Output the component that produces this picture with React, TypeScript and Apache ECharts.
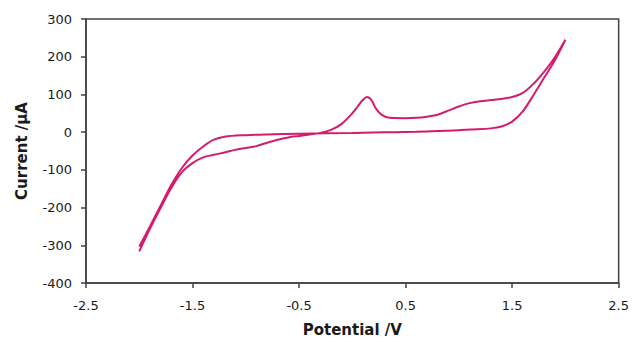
import React, { useEffect, useRef } from "react";
import * as echarts from "echarts";

// Forward (anodic) scan: -2.0 V -> 2.0 V
const forwardPotential = [
  -2.0, -1.9, -1.8, -1.7, -1.6, -1.5, -1.4, -1.3, -1.2, -1.1, -1.0, -0.9, -0.8,
  -0.7, -0.6, -0.5, -0.4, -0.3, -0.2, -0.1, 0.0, 0.05, 0.1, 0.14, 0.18, 0.22,
  0.28, 0.35, 0.5, 0.6, 0.7, 0.8, 0.9, 1.0, 1.1, 1.2, 1.3, 1.4, 1.5, 1.6, 1.7,
  1.8, 1.9, 2.0,
];
const forwardCurrent = [
  -316, -256, -201, -148, -106, -82, -67, -60, -54, -47, -42, -37, -28, -20,
  -14, -10, -6, -2, 6, 22, 50, 68, 86, 93, 85, 63, 45, 38, 37, 38, 41, 46, 57,
  68, 77, 82, 85, 88, 93, 104, 128, 160, 198, 245,
];

// Reverse (cathodic) scan: 2.0 V -> -2.0 V
const reversePotential = [
  2.0, 1.9, 1.8, 1.7, 1.6, 1.5, 1.4, 1.3, 1.1, 1.0, 0.8, 0.6, 0.4, 0.2, 0.0,
  -0.5, -0.8, -1.0, -1.2, -1.3, -1.4, -1.5, -1.6, -1.7, -1.8, -1.9, -2.0,
];
const reverseCurrent = [
  245, 190, 144, 98, 55, 28, 15, 10, 7, 5, 3, 1, 0, -1, -2, -4, -6, -8, -12,
  -20, -38, -62, -95, -140, -195, -250, -303,
];

const xTicks = { min: -2.5, max: 2.5, interval: 1 };
const yTicks = { min: -400, max: 300, interval: 100 };

export default function App() {
  const ref = useRef<HTMLDivElement>(null);
  useEffect(() => {
    if (!ref.current) return;
    const chart = echarts.init(ref.current, undefined, { renderer: "svg" });
    const data: number[][] = [];
    forwardPotential.forEach((x, i) => data.push([x, forwardCurrent[i]]));
    reversePotential.forEach((x, i) => data.push([x, reverseCurrent[i]]));
    const font = "DejaVu Sans";
    chart.setOption({
      animation: false,
      backgroundColor: "#fff",
      grid: {
        left: 86,
        right: 12,
        top: 19,
        bottom: 55,
        show: true,
        borderColor: "#404040",
        borderWidth: 1.5,
      },
      xAxis: {
        type: "value",
        min: xTicks.min,
        max: xTicks.max,
        interval: xTicks.interval,
        name: "Potential /V",
        nameLocation: "middle",
        nameGap: 39,
        nameTextStyle: { fontFamily: font, fontSize: 15, fontWeight: "bold", color: "#1a1a1a" },
        axisLine: { onZero: false, lineStyle: { color: "#404040", width: 1.5 } },
        axisTick: { show: true, inside: false, length: 5, lineStyle: { color: "#404040", width: 1.5 } },
        axisLabel: {
          fontFamily: font,
          fontSize: 13,
          color: "#1a1a1a",
          margin: 16,
          formatter: (v: number) => String(Math.round(v * 10) / 10),
        },
        splitLine: { show: false },
      },
      yAxis: {
        type: "value",
        min: yTicks.min,
        max: yTicks.max,
        interval: yTicks.interval,
        name: "Current /µA",
        nameLocation: "middle",
        nameGap: 57,
        nameTextStyle: { fontFamily: font, fontSize: 15, fontWeight: "bold", color: "#1a1a1a" },
        axisLine: { show: true, onZero: false, lineStyle: { color: "#404040", width: 1.5 } },
        axisTick: { show: true, inside: false, length: 5, lineStyle: { color: "#404040", width: 1.5 } },
        axisLabel: { fontFamily: font, fontSize: 13, color: "#1a1a1a", margin: 14 },
        splitLine: { show: false },
      },
      series: [
        {
          type: "line",
          data,
          smooth: 0.3,
          showSymbol: false,
          symbol: "none",
          lineStyle: { color: "#D41B6E", width: 2 },
        },
      ],
    });
    return () => chart.dispose();
  }, []);
  return <div ref={ref} style={{ width: 632, height: 342, position: "absolute", left: 0, top: 0 }} />;
}
